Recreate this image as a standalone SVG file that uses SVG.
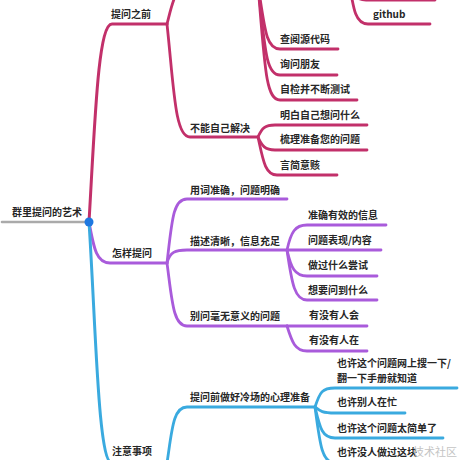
<svg xmlns="http://www.w3.org/2000/svg" width="460" height="460" viewBox="0 0 460 460">
<style>
text{font-family:"Noto Sans CJK SC","Liberation Sans",sans-serif;font-size:10px;font-weight:700;fill:#262626}
.r{stroke:#C2306A}
.p{stroke:#A95BDB}
.b{stroke:#3AAADF}
path{fill:none;stroke-linecap:round}
.m{stroke-width:3}
.s{stroke-width:2.8}
.wm{font-family:"Liberation Serif","Noto Sans CJK SC",serif;font-size:11px;font-weight:400;fill:#c4c4c4}
</style>
<rect width="460" height="460" fill="#fff"/>
<g id="connectors">
<path d="M2,222 L89,222" stroke="#aaaaaa" stroke-width="2.6" fill="none"/>
<path class="r m" d="M89,222 C95,120 98,24 112,24 L167,24"/>
<path class="p m" d="M89,222 C94,250 97,263 110,263 L167,263"/>
<path class="b m" d="M89,222 C96,330 98,463 112,463 L167,463"/>
<path class="r s" d="M167,24 C172,5 175,-15 190,-15 L258,-15"/>
<path class="r s" d="M167,24 C174,90 175,137 190,137 L258,137"/>
<path class="r s" d="M258,-15 C265,30 266,49 280,49 L338,49"/>
<path class="r s" d="M258,-15 C265,50 266,75 280,75 L337,75"/>
<path class="r s" d="M258,-15 C265,70 266,100 280,100 L357,100"/>
<path class="r s" d="M348,-25 C352,-6 355,0 366,0 L435,0"/>
<path class="r s" d="M348,-25 C353,5 354,24 368,24 L430,24"/>
<path class="r s" d="M258,137 C262,128 265,125 275,125 L367,125"/>
<path class="r s" d="M258,137 C262,146 265,150 275,150 L367,150"/>
<path class="r s" d="M258,137 C263,160 265,175 277,175 L337,175"/>
<path class="p s" d="M167,263 C172,220 173,199 187,199 L287,199"/>
<path class="p s" d="M167,263 C170,252 175,250 187,250 L287,250"/>
<path class="p s" d="M167,263 C172,300 173,326 187,326 L287,326"/>
<path class="p s" d="M287,250 C291,232 295,225 307,225 L386,225"/>
<path class="p s" d="M287,250 L381,250"/>
<path class="p s" d="M287,250 C291,268 295,276 307,276 L377,276"/>
<path class="p s" d="M287,250 C292,285 295,300 307,300 L377,300"/>
<path class="p s" d="M287,326 L367,326"/>
<path class="p s" d="M287,326 C292,342 295,351 307,351 L367,351"/>
<path class="b s" d="M167,463 C172,430 173,407 187,407 L315,407"/>
<path class="b s" d="M315,407 C320,392 322,388 335,388 L457,388"/>
<path class="b s" d="M315,407 C320,411 322,413 335,413 L405,413"/>
<path class="b s" d="M315,407 C320,428 322,438 335,438 L443,438"/>
<path class="b s" d="M315,407 C320,445 322,463 335,463 L440,463"/>
</g>
<g id="root"><text x="12" y="216">群里提问的艺术</text><circle cx="89" cy="222" r="4.5" fill="#1E78E0"/></g>
<g id="n-before"><text x="111" y="18">提问之前</text></g>
<g id="n-github"><text x="373" y="18">github</text></g>
<g id="n-source"><text x="280" y="43">查阅源代码</text></g>
<g id="n-friend"><text x="280" y="68">询问朋友</text></g>
<g id="n-test"><text x="280" y="93">自检并不断测试</text></g>
<g id="n-cannot"><text x="190" y="132">不能自己解决</text></g>
<g id="n-know"><text x="280" y="119">明白自己想问什么</text></g>
<g id="n-prepare"><text x="280" y="143">梳理准备您的问题</text></g>
<g id="n-brief"><text x="280" y="169">言简意赅</text></g>
<g id="n-how"><text x="112" y="257">怎样提问</text></g>
<g id="n-words"><text x="190" y="194">用词准确，问题明确</text></g>
<g id="n-describe"><text x="190" y="245">描述清晰，信息充足</text></g>
<g id="n-info"><text x="308" y="219">准确有效的信息</text></g>
<g id="n-show"><text x="308" y="244">问题表现/内容</text></g>
<g id="n-tried"><text x="308" y="269">做过什么尝试</text></g>
<g id="n-want"><text x="308" y="294">想要问到什么</text></g>
<g id="n-meaningless"><text x="190" y="320">别问毫无意义的问题</text></g>
<g id="n-anyone"><text x="309" y="319">有没有人会</text></g>
<g id="n-anyonein"><text x="309" y="344">有没有人在</text></g>
<g id="n-note"><text x="112" y="455">注意事项</text></g>
<g id="n-cold"><text x="190" y="401">提问前做好冷场的心理准备</text></g>
<g id="n-search"><text x="337" y="367">也许这个问题网上搜一下/</text><text x="337" y="382">翻一下手册就知道</text></g>
<g id="n-busy"><text x="337" y="406">也许别人在忙</text></g>
<g id="n-simple"><text x="337" y="432">也许这个问题太简单了</text></g>
<g id="n-nobody"><text x="337" y="456">也许没人做过这块</text></g>
<text class="wm" x="413" y="456">技术社区</text>
</svg>
